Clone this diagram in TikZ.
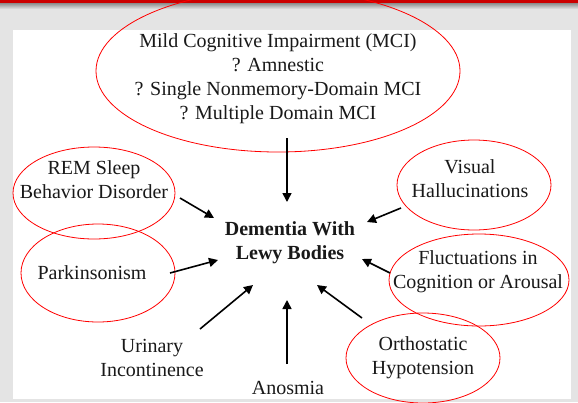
\documentclass[tikz,border=0pt]{standalone}
\usepackage{fontspec}
\setmainfont{Liberation Serif}
\usetikzlibrary{shapes.geometric,arrows.meta}
\definecolor{bggray}{RGB}{228,228,228}
\definecolor{barred}{RGB}{204,0,0}
\definecolor{txt}{RGB}{25,25,25}
\tikzset{
  ell/.style={ellipse, draw=red, line width=0.8pt, inner sep=0pt},
  lbl/.style={align=center, inner sep=0pt, text=txt, font=\fontsize{20}{24}\selectfont},
  arr/.style={line width=1.6pt, -{Triangle[length=9pt,width=9pt]}}
}
\newcommand{\twol}[2]{\strut #1\\#2\strut}
\begin{document}
\begin{tikzpicture}[x=1pt,y=-1pt]
\useasboundingbox (0,0) rectangle (578,402);
% background
\fill[bggray] (0,0) rectangle (578,402);
\shade[top color=black!45, bottom color=bggray] (0,3) rectangle (578,9);
\fill[barred] (0,0) rectangle (578,3.2);
\fill[white] (13,30) rectangle (571,399);
% ellipses
\node[ell, minimum width=364, minimum height=162] (mciE) at (278,71) {};
\node[ell, minimum width=162, minimum height=92] (remE) at (94,193) {};
\node[ell, minimum width=154, minimum height=98] (parkE) at (98,273) {};
\node[ell, minimum width=154, minimum height=90] (visE) at (474,185) {};
\node[ell, minimum width=180, minimum height=92] (flucE) at (479,280) {};
\node[ell, minimum width=154, minimum height=90] (orthE) at (423,358) {};
% labels
\node[lbl] (mci) at (278,79) {\strut Mild Cognitive Impairment (MCI)\\? Amnestic\\? Single Nonmemory-Domain MCI\\? Multiple Domain MCI\strut};
\node[lbl, font=\fontsize{20}{24}\selectfont\bfseries] (dlb) at (290,242.5) {\twol{Dementia With}{Lewy Bodies}};
\node[lbl] (rem) at (94,181.5) {\twol{REM Sleep}{Behavior Disorder}};
\node[lbl] (park) at (92,275) {\strut Parkinsonism\strut};
\node[lbl] (vis) at (470,180.5) {\twol{Visual}{Hallucinations}};
\node[lbl] (fluc) at (478,271.5) {\twol{Fluctuations in}{Cognition or Arousal}};
\node[lbl] (orth) at (423,357.5) {\twol{Orthostatic}{Hypotension}};
\node[lbl] (uri) at (152,359.5) {\twol{Urinary}{Incontinence}};
\node[lbl] (ano) at (288,390) {\strut Anosmia\strut};
% arrow end points
\coordinate (a1s) at (287,138); \coordinate (a1e) at (287,202);
\coordinate (a2s) at (180,198); \coordinate (a2e) at (214,218);
\coordinate (a3s) at (170,273); \coordinate (a3e) at (218,260);
\coordinate (a4s) at (401,208); \coordinate (a4e) at (367,222);
\coordinate (a5s) at (390,273); \coordinate (a5e) at (362,259);
\coordinate (a6s) at (362,318); \coordinate (a6e) at (317,285);
\coordinate (a7s) at (200,329); \coordinate (a7e) at (253,285);
\coordinate (a8s) at (287,364); \coordinate (a8e) at (287,300);
\draw[arr] (a1s) -- (a1e);
\draw[arr] (a2s) -- (a2e);
\draw[arr] (a3s) -- (a3e);
\draw[arr] (a4s) -- (a4e);
\draw[arr] (a5s) -- (a5e);
\draw[arr] (a6s) -- (a6e);
\draw[arr] (a7s) -- (a7e);
\draw[arr] (a8s) -- (a8e);
\end{tikzpicture}
\end{document}
